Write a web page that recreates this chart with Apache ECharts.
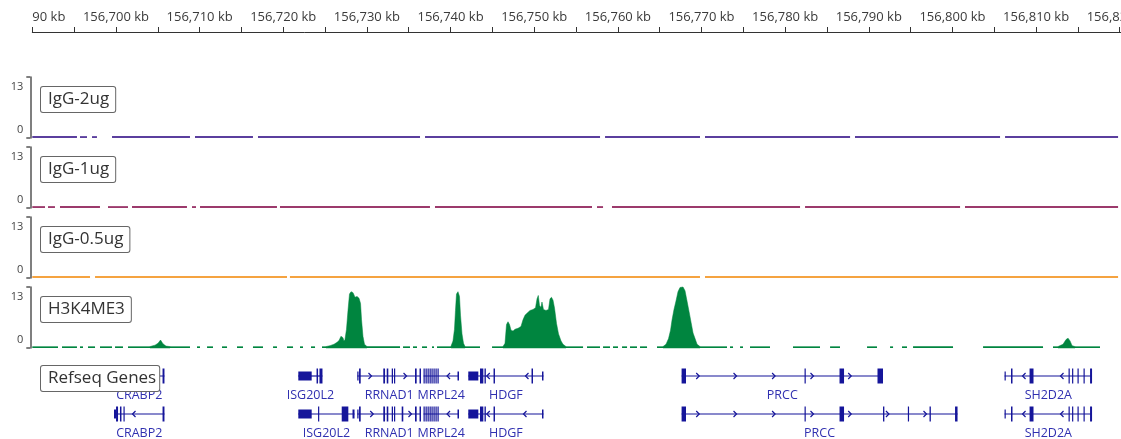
<!DOCTYPE html>
<html><head><meta charset="utf-8">
<script src="https://cdn.jsdelivr.net/npm/echarts@6/dist/echarts.min.js"></script>
<style>html,body{margin:0;padding:0;background:#fff}#c{width:1121px;height:439px}</style>
</head><body><div id="c"></div>
<script>
// ---- genomic window (kb) and ruler ----
const regionKb = [156690, 156820.15];
const rulerTickKb = 5;
const rulerLabelKb = 10;

// ---- signal tracks ----
const trackNames = ['IgG-2ug', 'IgG-1ug', 'IgG-0.5ug', 'H3K4ME3'];
const trackColors = ['#5b3f9e', '#9c3a6c', '#f5a340', '#00853f'];
const trackRange = [0, 13];
const baselineLevel = [0.4, 0.4, 0.4, 0.35];

// covered intervals [startKb, endKb] at baseline level
const igg2Covered = [[156690.0,156695.34],[156695.70,156696.54],[156697.14,156697.73],[156699.53,156708.85],[156709.45,156716.38],[156716.98,156736.35],[156736.95,156757.87],[156758.47,156769.82],[156770.42,156787.76],[156788.35,156805.69],[156806.29,156819.80]];
const igg1Covered = [[156690.0,156691.52],[156691.88,156692.71],[156693.31,156698.09],[156699.05,156701.44],[156701.92,156708.49],[156709.09,156709.57],[156710.05,156719.25],[156719.61,156737.54],[156738.14,156756.91],[156757.51,156758.23],[156759.30,156781.78],[156782.38,156800.91],[156801.50,156819.80]];
const igg05Covered = [[156690.0,156696.90],[156697.50,156720.45],[156720.80,156769.82],[156770.42,156819.80]];
const h3k4me3Covered = [[156690.00,156693.07],[156693.55,156695.34],[156695.70,156696.06],[156696.66,156697.50],[156698.09,156699.53],[156699.89,156700.84],[156701.44,156704.07],
[156706.46,156708.85],[156709.69,156710.05],[156710.89,156711.60],[156712.68,156713.28],[156714.47,156715.19],[156716.38,156717.58],[156718.78,156719.25],[156720.45,156721.17],[156722.00,156722.36],[156723.32,156723.80],[156724.63,156725.11],
[156730.01,156733.96],[156734.32,156735.15],[156735.51,156735.99],[156736.59,156737.19],[156737.78,156738.02],[156738.38,156740.06],
[156741.73,156743.52],[156744.96,156746.27],
[156753.80,156755.84],[156756.31,156757.87],[156758.23,156759.06],[156759.42,156760.02],[156760.50,156761.10],[156761.45,156762.29],[156762.65,156763.49],[156764.68,156765.40],
[156769.82,156773.05],[156773.41,156773.77],[156774.61,156774.96],[156775.80,156778.19],[156780.94,156784.17],[156785.37,156786.56],[156789.79,156790.98],[156792.54,156792.90],[156793.97,156794.57],[156795.29,156800.07],[156803.66,156810.83],[156812.02,156812.62],[156814.65,156817.64]];

// H3K4ME3 peaks: [kb, value]
const h3k4me3PeakA = [[156704.07,0.3],[156704.67,0.6],[156705.03,1.0],[156705.33,1.7],[156705.62,0.9],[156705.98,0.4],[156706.46,0.3]];
const h3k4me3PeakB = [[156725.11,0.3],[156725.59,0.5],[156726.07,0.8],[156726.43,1.2],[156726.67,1.6],[156726.90,2.5],[156727.14,2.2],[156727.26,1.5],[156727.38,1.8],[156727.56,4],[156727.74,8],[156727.92,11.5],[156728.10,12],[156728.34,11.8],[156728.58,10.8],[156728.82,11],[156729.06,10.6],[156729.24,9.5],[156729.36,6],[156729.53,2.5],[156729.71,0.8],[156730.01,0.3]];
const h3k4me3PeakC = [[156740.06,0.4],[156740.29,1.5],[156740.47,4],[156740.59,8],[156740.71,11.5],[156740.89,12],[156741.07,11],[156741.19,7],[156741.37,3],[156741.55,1],[156741.73,0.3]];
const h3k4me3PeakD = [[156746.27,0.3],[156746.51,1.0],[156746.69,5.0],[156746.87,5.6],[156747.05,5.0],[156747.23,3.8],[156747.47,3.6],[156747.71,4.0],[156748.07,4.2],[156748.42,4.6],[156748.66,6.0],[156748.90,7.0],[156749.14,7.4],[156749.50,8.0],[156749.86,8.2],[156750.16,8.6],[156750.34,10.5],[156750.49,11.2],[156750.64,9],[156750.81,8.7],[156750.93,9.8],[156751.11,8.2],[156751.41,8.0],[156751.71,8.2],[156751.89,10.5],[156752.07,10.8],[156752.25,10.2],[156752.43,8.5],[156752.67,5.2],[156752.91,3.0],[156753.21,1.5],[156753.44,0.8],[156753.80,0.3]];
const h3k4me3PeakE = [[156765.40,0.3],[156765.76,0.8],[156766.06,2.0],[156766.30,3.8],[156766.48,6.0],[156766.71,8.2],[156766.95,10.0],[156767.19,12.0],[156767.43,12.9],[156767.79,13.0],[156768.03,12.2],[156768.27,10.0],[156768.51,7.8],[156768.75,5.5],[156768.99,3.2],[156769.23,2.0],[156769.47,0.8],[156769.82,0.3]];
const h3k4me3PeakF = [[156812.62,0.3],[156813.22,0.8],[156813.58,1.8],[156813.82,2.1],[156814.06,1.5],[156814.30,0.5],[156814.65,0.3]];

// ---- RefSeq genes ----
// transcripts: [name, row, strand, startKb, endKb]
const transcripts = [
  ['CRABP2', 0, '-', 156699.77, 156705.80],
  ['CRABP2', 1, '-', 156699.77, 156705.80],
  ['ISG20L2', 0, '-', 156721.80, 156724.69],
  ['ISG20L2', 1, '-', 156721.80, 156728.52],
  ['RRNAD1', 0, '+', 156728.85, 156736.47],
  ['RRNAD1', 1, '+', 156728.85, 156736.47],
  ['MRPL24', 0, '-', 156736.77, 156741.01],
  ['MRPL24', 1, '-', 156736.77, 156741.01],
  ['HDGF', 0, '-', 156742.12, 156751.11],
  ['HDGF', 1, '-', 156742.12, 156751.11],
  ['PRCC', 0, '+', 156767.62, 156791.70],
  ['PRCC', 1, '+', 156767.62, 156800.61],
  ['SH2D2A', 0, '-', 156806.23, 156816.69],
  ['SH2D2A', 1, '-', 156806.23, 156816.69]
];
// exons: [transcript, startKb, endKb, kind]
const exons = [
  [0,156699.77,156700.01,'utr'],[0,156700.01,156700.25,'cds'],[0,156700.48,156700.66,'cds'],[0,156700.90,156701.02,'cds'],[0,156705.57,156705.80,'cds'],
  [1,156699.77,156700.01,'utr'],[1,156700.01,156700.25,'cds'],[1,156700.48,156700.66,'cds'],[1,156700.90,156701.02,'cds'],[1,156705.57,156705.80,'cds'],
  [2,156721.80,156723.40,'utr'],[2,156723.98,156724.16,'cds'],[2,156724.33,156724.69,'cds'],
  [3,156721.80,156723.40,'utr'],[3,156724.16,156724.28,'cds'],[3,156726.99,156727.78,'cds'],[3,156728.28,156728.52,'utr'],
  [4,156728.85,156729.00,'utr'],[4,156729.06,156729.26,'cds'],[4,156731.96,156732.17,'cds'],[4,156732.37,156732.56,'cds'],[4,156732.97,156733.12,'cds'],[4,156733.24,156733.36,'cds'],[4,156735.75,156735.95,'cds'],[4,156736.29,156736.47,'cds'],
  [5,156728.85,156729.00,'utr'],[5,156729.06,156729.26,'cds'],[5,156731.96,156732.17,'cds'],[5,156732.37,156732.56,'cds'],[5,156732.97,156733.12,'cds'],[5,156733.24,156733.36,'cds'],[5,156734.16,156734.35,'cds'],[5,156735.75,156735.95,'cds'],[5,156736.29,156736.47,'cds'],
  [6,156736.77,156736.86,'cds'],[6,156737.01,156737.11,'cds'],[6,156737.25,156737.34,'cds'],[6,156737.49,156737.58,'cds'],[6,156737.72,156737.82,'cds'],[6,156737.96,156738.06,'cds'],[6,156738.20,156738.30,'cds'],[6,156738.44,156738.54,'cds'],[6,156740.83,156741.01,'utr'],
  [7,156736.77,156736.86,'cds'],[7,156737.01,156737.11,'cds'],[7,156737.25,156737.34,'cds'],[7,156737.49,156737.58,'cds'],[7,156737.72,156737.82,'cds'],[7,156737.96,156738.06,'cds'],[7,156738.20,156738.30,'cds'],[7,156738.44,156738.54,'cds'],[7,156740.83,156741.01,'utr'],
  [8,156742.12,156743.32,'utr'],[8,156743.52,156743.92,'cds'],[8,156744.06,156744.22,'cds'],[8,156745.14,156745.31,'cds'],[8,156749.68,156749.86,'cds'],[8,156750.93,156751.11,'utr'],
  [9,156742.12,156743.32,'utr'],[9,156743.52,156743.92,'cds'],[9,156744.06,156744.22,'cds'],[9,156745.14,156745.31,'cds'],[9,156750.93,156751.11,'utr'],
  [10,156767.62,156768.15,'cds'],[10,156782.32,156782.44,'cds'],[10,156786.50,156787.04,'cds'],[10,156791.04,156791.70,'cds'],
  [11,156767.62,156768.15,'cds'],[11,156782.32,156782.44,'cds'],[11,156786.50,156787.04,'cds'],[11,156791.70,156791.86,'cds'],[11,156794.67,156794.81,'cds'],[11,156797.26,156797.42,'cds'],[11,156800.31,156800.61,'cds'],
  [12,156806.23,156806.35,'utr'],[12,156807.00,156807.18,'cds'],[12,156809.22,156809.69,'cds'],[12,156813.88,156814.00,'cds'],[12,156814.30,156814.42,'cds'],[12,156814.95,156815.07,'cds'],[12,156815.67,156815.79,'cds'],[12,156816.45,156816.69,'cds'],
  [13,156806.23,156806.35,'utr'],[13,156807.00,156807.18,'cds'],[13,156809.22,156809.69,'cds'],[13,156813.88,156814.00,'cds'],[13,156814.30,156814.42,'cds'],[13,156814.95,156815.07,'cds'],[13,156815.67,156815.79,'cds'],[13,156816.45,156816.69,'cds']
];
// strand chevrons: [transcript, posKb]
const strandMarks = [
  [0,156702.16],[1,156702.16],
  [4,156730.37],[4,156734.56],[5,156730.58],[5,156735.15],
  [6,156739.76],[7,156739.76],
  [8,156744.51],[8,156749.14],[9,156744.51],[9,156748.90],
  [10,156769.55],[10,156774.01],[10,156778.62],[10,156783.21],[10,156787.72],
  [11,156769.55],[11,156774.01],[11,156778.62],[11,156783.21],[11,156787.72],[11,156792.23],[11,156796.72],
  [12,156808.56],[12,156813.10],[13,156808.56],[13,156813.10]
];
const geneTrackName = 'Refseq Genes';

// ---------------- build chart ----------------
const FONT = '"Open Sans", "Noto Sans", sans-serif';
const GENE_COLOR = '#15159a';
const GENE_LABEL_COLOR = '#3030b0';

function fmtKb(v) {
  return String(Math.round(v)).replace(/\B(?=(\d{3})+(?!\d))/g, ',') + ' kb';
}

const covered = [igg2Covered, igg1Covered, igg05Covered, h3k4me3Covered];
const peakSets = [[], [], [], [h3k4me3PeakA, h3k4me3PeakB, h3k4me3PeakC, h3k4me3PeakD, h3k4me3PeakE, h3k4me3PeakF]];

const LEFT = 32.3;
const grids = [{ left: LEFT, right: 0, top: 31, height: 1, outerBoundsMode: 'none', containLabel: false }];
const xAxes = [{
  type: 'value', gridIndex: 0, position: 'top', min: regionKb[0], max: regionKb[1], interval: rulerTickKb,
  axisLine: { lineStyle: { color: '#333', width: 1 } },
  axisTick: { length: 5, lineStyle: { color: '#333', width: 1 } },
  axisLabel: {
    margin: 7, fontSize: 13, color: '#3a3a3a', fontFamily: FONT,
    showMinLabel: true, showMaxLabel: true, hideOverlap: false,
    formatter: v => (Math.abs(v % rulerLabelKb) < 1e-6 ? fmtKb(v) : '')
  },
  splitLine: { show: false }
}];
const yAxes = [{ type: 'value', gridIndex: 0, show: false, min: 0, max: 1 }];
const series = [];

trackNames.forEach((name, k) => {
  const gi = k + 1;
  const color = trackColors[k];
  grids.push({ left: LEFT, right: 0, top: 77 + 70 * k, height: 61, outerBoundsMode: 'none', containLabel: false });
  xAxes.push({ type: 'value', gridIndex: gi, show: false, min: regionKb[0], max: regionKb[1], splitLine: { show: false } });
  yAxes.push({
    type: 'value', gridIndex: gi, min: trackRange[0], max: trackRange[1], interval: trackRange[1] - trackRange[0],
    offset: 2,
    axisLine: { show: true, lineStyle: { color: '#555', width: 1.5 } },
    axisTick: { show: true, length: 4, lineStyle: { color: '#555', width: 1.5 } },
    splitLine: { show: false },
    axisLabel: {
      margin: 7, fontSize: 11, color: '#444', fontFamily: FONT,
      formatter: v => (v > 0 ? '{t|' + v + '}' : '{b|' + v + '}'),
      rich: { t: { padding: [20, 0, 0, 0], fontSize: 11, color: '#444', fontFamily: FONT }, b: { padding: [0, 0, 17, 0], fontSize: 11, color: '#444', fontFamily: FONT } }
    }
  });
  // baseline coverage as thin bars
  series.push({
    type: 'custom', name: name + ' coverage', xAxisIndex: gi, yAxisIndex: gi, silent: true, animation: false,
    data: covered[k].map(([s, e]) => [s, e, baselineLevel[k]]),
    encode: { x: [0, 1], y: 2 },
    renderItem: (params, api) => {
      const a = api.coord([api.value(0), api.value(2)]);
      const b = api.coord([api.value(1), 0]);
      return { type: 'rect', shape: { x: a[0], y: a[1], width: b[0] - a[0], height: b[1] - a[1] }, style: { fill: color } };
    }
  });
  // peaks as filled profiles
  const peaks = peakSets[k];
  if (peaks.length) {
    series.push({
      type: 'custom', name: name + ' peaks', xAxisIndex: gi, yAxisIndex: gi, silent: true, animation: false,
      data: peaks.map((p, i) => [p[0][0], p[p.length - 1][0], i]),
      encode: { x: [0, 1] },
      renderItem: (params, api) => {
        const p = peaks[api.value(2)];
        const pts = [api.coord([p[0][0], 0])];
        p.forEach(pt => pts.push(api.coord(pt)));
        pts.push(api.coord([p[p.length - 1][0], 0]));
        return { type: 'polygon', shape: { points: pts }, style: { fill: color, stroke: color, lineWidth: 0.5 } };
      }
    });
  }
});

// gene grid
grids.push({ left: LEFT, right: 0, top: 357, height: 76, outerBoundsMode: 'none', containLabel: false });
xAxes.push({ type: 'value', gridIndex: 5, show: false, min: regionKb[0], max: regionKb[1], splitLine: { show: false } });
yAxes.push({ type: 'value', gridIndex: 5, show: false, min: -0.5, max: 1.5, inverse: true, splitLine: { show: false } });

const EXON_H = { cds: 15, utr: 9 };
series.push({
  type: 'custom', xAxisIndex: 5, yAxisIndex: 5, silent: true, animation: false,
  data: transcripts.map((t, i) => [t[3], t[1], t[4], i]),
  encode: { x: [0, 2], y: 1 },
  renderItem: (params, api) => {
    const ti = api.value(3);
    const t = transcripts[ti];
    const p0 = api.coord([t[3], t[1]]);
    const p1 = api.coord([t[4], t[1]]);
    const y = p0[1];
    const children = [{
      type: 'line', shape: { x1: p0[0], y1: y, x2: p1[0], y2: y },
      style: { stroke: GENE_COLOR, lineWidth: 1.2 }
    }];
    exons.filter(e => e[0] === ti).forEach(e => {
      const a = api.coord([e[1], t[1]])[0];
      const b = api.coord([e[2], t[1]])[0];
      const h = EXON_H[e[3]];
      children.push({ type: 'rect', shape: { x: a, y: y - h / 2, width: Math.max(b - a, 1.2), height: h }, style: { fill: GENE_COLOR } });
    });
    strandMarks.filter(m => m[0] === ti).forEach(m => {
      const x = api.coord([m[1], t[1]])[0];
      const dir = t[2] === '+' ? 1 : -1;
      children.push({ type: 'polyline', shape: { points: [[x - 1.5 * dir, y - 3], [x + 1.5 * dir, y], [x - 1.5 * dir, y + 3]] }, style: { stroke: GENE_COLOR, lineWidth: 1.2, fill: null } });
    });
    children.push({
      type: 'text', x: (p0[0] + p1[0]) / 2, y: y + 19.5,
      style: { text: t[0], align: 'center', verticalAlign: 'middle', fill: GENE_LABEL_COLOR, fontSize: 12.5, fontFamily: FONT }
    });
    return { type: 'group', children };
  }
});

// graphic: ruler clip + track name boxes
const graphic = [{ type: 'rect', x: 0, y: 0, shape: { width: 32, height: 29 }, style: { fill: '#fff' }, z: 100 }];
const boxStyle = { fontSize: 17, fontFamily: FONT, fill: '#333', backgroundColor: '#fff', borderColor: '#666', borderWidth: 1, borderRadius: 2, padding: [2, 6, 3, 7], lineHeight: 20 };
trackNames.forEach((name, k) => {
  graphic.push({ type: 'text', x: 41, y: 87 + 70 * k, z: 100, style: Object.assign({ text: name }, boxStyle) });
});
graphic.push({ type: 'text', x: 41, y: 366, z: 100, style: Object.assign({ text: geneTrackName, padding: [2, 3, 3, 7] }, { fontSize: 17, fontFamily: FONT, fill: '#333', backgroundColor: '#fff', borderColor: '#666', borderWidth: 1, borderRadius: 2, lineHeight: 20 }) });

const chart = echarts.init(document.getElementById('c'), null, { renderer: 'canvas', width: 1121, height: 439 });
chart.setOption({ animation: false, backgroundColor: '#fff', grid: grids, xAxis: xAxes, yAxis: yAxes, series, graphic });
</script></body></html>
